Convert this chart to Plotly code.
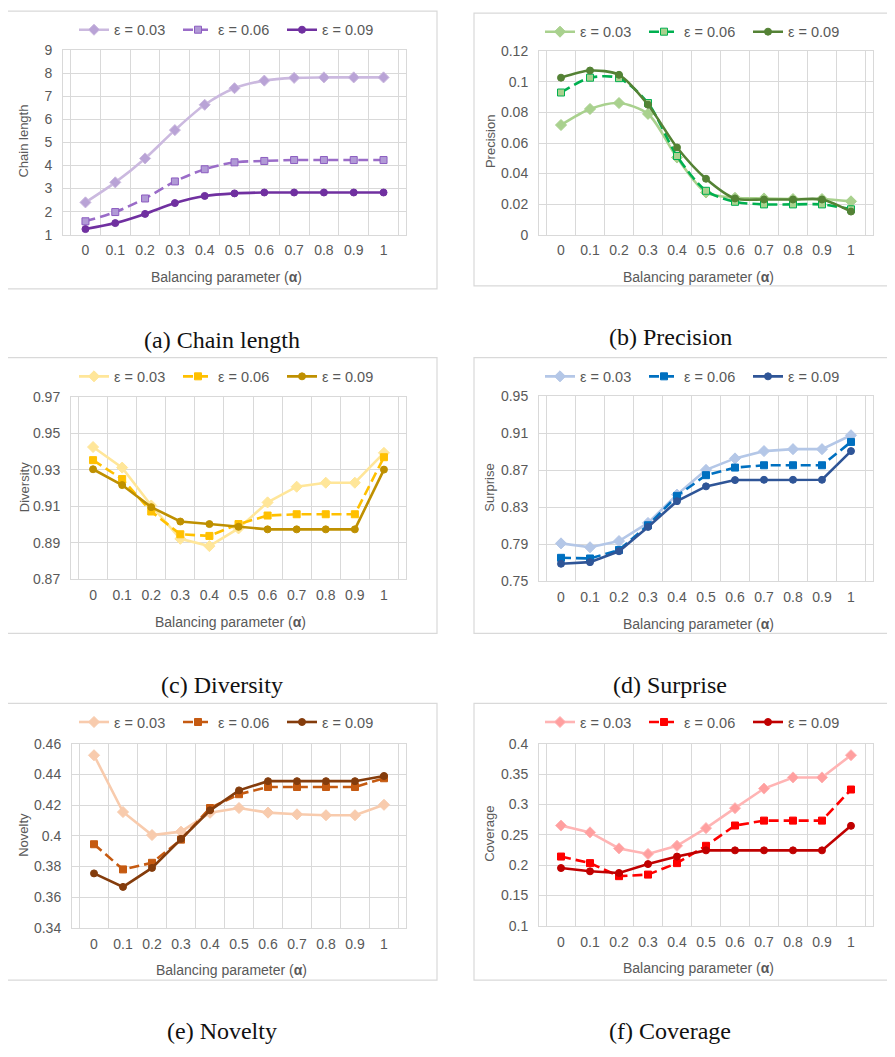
import plotly.graph_objects as go

# ---------------- data ----------------
alpha = ["0", "0.1", "0.2", "0.3", "0.4", "0.5", "0.6", "0.7", "0.8", "0.9", "1"]
eps_labels = ["ε = 0.03", "ε = 0.06", "ε = 0.09"]

chain_003 = [2.40, 3.27, 4.31, 5.54, 6.64, 7.36, 7.69, 7.81, 7.83, 7.83, 7.83]
chain_006 = [1.58, 1.98, 2.57, 3.31, 3.84, 4.14, 4.20, 4.24, 4.24, 4.24, 4.24]
chain_009 = [1.24, 1.50, 1.90, 2.37, 2.68, 2.79, 2.83, 2.83, 2.83, 2.83, 2.83]

prec_003 = [0.0718, 0.0823, 0.0862, 0.0791, 0.0505, 0.0276, 0.0241, 0.0237, 0.0233, 0.0233, 0.0218]
prec_006 = [0.0931, 0.1028, 0.1025, 0.0862, 0.0515, 0.0287, 0.0215, 0.0198, 0.0198, 0.0198, 0.0166]
prec_009 = [0.1028, 0.1075, 0.1047, 0.0851, 0.0571, 0.0366, 0.0237, 0.0230, 0.0230, 0.0230, 0.0151]

div_003 = [0.9426, 0.9313, 0.9105, 0.8922, 0.8882, 0.8979, 0.9122, 0.9208, 0.9230, 0.9230, 0.9394]
div_006 = [0.9354, 0.9250, 0.9072, 0.8947, 0.8938, 0.9003, 0.9050, 0.9057, 0.9057, 0.9057, 0.9370]
div_009 = [0.9304, 0.9217, 0.9096, 0.9017, 0.9003, 0.8988, 0.8974, 0.8974, 0.8974, 0.8974, 0.9302]

surp_003 = [0.7909, 0.7867, 0.7934, 0.8130, 0.8436, 0.8703, 0.8827, 0.8906, 0.8927, 0.8927, 0.9077]
surp_006 = [0.7753, 0.7746, 0.7838, 0.8105, 0.8422, 0.8646, 0.8728, 0.8753, 0.8753, 0.8753, 0.9005]
surp_009 = [0.7689, 0.7706, 0.7824, 0.8087, 0.8365, 0.8525, 0.8593, 0.8596, 0.8596, 0.8596, 0.8906]

nov_003 = [0.4525, 0.4155, 0.4005, 0.4027, 0.4150, 0.4181, 0.4151, 0.4140, 0.4134, 0.4134, 0.4202]
nov_006 = [0.3945, 0.3781, 0.3824, 0.3975, 0.4181, 0.4271, 0.4318, 0.4318, 0.4318, 0.4318, 0.4375]
nov_009 = [0.3755, 0.3667, 0.3791, 0.3980, 0.4166, 0.4296, 0.4356, 0.4356, 0.4356, 0.4356, 0.4390]

cov_003 = [0.2653, 0.2540, 0.2276, 0.2185, 0.2319, 0.2610, 0.2939, 0.3262, 0.3445, 0.3445, 0.3811]
cov_006 = [0.2142, 0.2034, 0.1819, 0.1845, 0.2034, 0.2319, 0.2653, 0.2734, 0.2734, 0.2734, 0.3246]
cov_009 = [0.1953, 0.1899, 0.1872, 0.2018, 0.2142, 0.2244, 0.2244, 0.2244, 0.2244, 0.2244, 0.2648]

y_titles = ["Chain length", "Precision", "Diversity", "Surprise", "Novelty", "Coverage"]
captions = ["(a) Chain length", "(b) Precision", "(c) Diversity",
            "(d) Surprise", "(e) Novelty", "(f) Coverage"]
x_title = "Balancing parameter (<b>α</b>)"

# ---------------- styling / layout ----------------
OFF = 8                       # page body margin of the html wrapper
W, H = 895 - OFF, 1057 - OFF
GRID = "#d9d9d9"
TICK = "#595959"
SANS = "Liberation Sans, Arial, sans-serif"

panels = [
    dict(series=[chain_003, chain_006, chain_009], yr=[1, 9], dt=1,
         colors=[("#cbb9df", "#b9a3d6", "#cbb9df"), ("#9a6cc8", "#b19ad6", "#8c5cc0"), ("#7030a0", "#7030a0", "#7030a0")],
         plot=(63, 406, 43, 230), box=(7, 437, 3, 285), spline=True),
    dict(series=[prec_003, prec_006, prec_009], yr=[0, 0.12], dt=0.02,
         colors=[("#a9d18e", "#a9d18e", "#a9d18e"), ("#00b050", "#a9d18e", "#00b050"), ("#548235", "#548235", "#548235")],
         plot=(539, 873, 44, 230), box=(474, 894, 5, 282), spline=True),
    dict(series=[div_003, div_006, div_009], yr=[0.87, 0.97], dt=0.02,
         colors=[("#ffe699", "#ffe699", "#ffe699"), ("#ffc000", "#ffc000", "#ffc000"), ("#bf9000", "#bf9000", "#bf9000")],
         plot=(71, 406, 395, 580), box=(7, 437, 355, 635), spline=False),
    dict(series=[surp_003, surp_006, surp_009], yr=[0.75, 0.95], dt=0.04,
         colors=[("#b4c7e7", "#b4c7e7", "#b4c7e7"), ("#0070c0", "#0070c0", "#0070c0"), ("#2f5597", "#2f5597", "#2f5597")],
         plot=(539, 873, 394, 582), box=(474, 894, 355, 635), spline=False),
    dict(series=[nov_003, nov_006, nov_009], yr=[0.34, 0.46], dt=0.02,
         colors=[("#f8cbad", "#f8cbad", "#f8cbad"), ("#c55a11", "#c55a11", "#c55a11"), ("#843c0c", "#843c0c", "#843c0c")],
         plot=(72, 406, 747, 934), box=(7, 437, 706, 987), spline=False),
    dict(series=[cov_003, cov_006, cov_009], yr=[0.1, 0.4], dt=0.05,
         colors=[("#ffb4b4", "#ff9f9f", "#ffb4b4"), ("#ff0000", "#ff0000", "#ff0000"), ("#c00000", "#c00000", "#c00000")],
         plot=(539, 873, 747, 932), box=(474, 894, 706, 987), spline=False),
]

symbols = ["diamond", "square", "circle"]
msizes = [8.5, 7, 7]
dashes = ["solid", "10px,5px", "solid"]

fig = go.Figure()
layout = dict(width=W, height=H, margin=dict(l=0, r=0, t=0, b=0),
              paper_bgcolor="white", plot_bgcolor="white",
              font=dict(family=SANS, color=TICK), shapes=[], annotations=[])


def px(x):
    return (x - OFF) / W


def py(y):
    return 1 - (y - OFF) / H


for i, p in enumerate(panels, start=1):
    xa = "x" if i == 1 else f"x{i}"
    ya = "y" if i == 1 else f"y{i}"
    lg = "legend" if i == 1 else f"legend{i}"
    for k in range(3):
        line_c, fill_c, edge_c = p["colors"][k]
        fig.add_trace(go.Scatter(
            x=alpha, y=p["series"][k], name=eps_labels[k], mode="lines+markers",
            xaxis=xa, yaxis=ya, legend=lg,
            line=dict(color=line_c, width=2.6, dash=dashes[k],
                      shape="spline" if p["spline"] else "linear", smoothing=0.8),
            marker=dict(symbol=symbols[k], size=msizes[k], color=fill_c,
                        line=dict(color=edge_c, width=1)),
            hoverinfo="x+y",
        ))
    x0, x1, y0, y1 = p["plot"]
    layout["xaxis" if i == 1 else f"xaxis{i}"] = dict(
        domain=[px(x0), px(x1)], anchor=ya, type="category",
        tickson="boundaries", showgrid=True, gridcolor=GRID, gridwidth=1,
        showline=True, linecolor=GRID, linewidth=1, mirror=True,
        ticks="", ticklabelstandoff=3, tickfont=dict(size=14, color=TICK),
        fixedrange=True,
    )
    layout["yaxis" if i == 1 else f"yaxis{i}"] = dict(
        domain=[py(y1), py(y0)], anchor=xa, range=p["yr"], dtick=p["dt"],
        tick0=p["yr"][0], showgrid=True, gridcolor=GRID, gridwidth=1,
        zeroline=False, showline=True, linecolor=GRID, linewidth=1, mirror=True,
        ticks="", ticklabelstandoff=7, tickfont=dict(size=14, color=TICK),
        fixedrange=True,
    )
    bx0, bx1, by0, by1 = p["box"]
    layout["shapes"].append(dict(type="rect", xref="paper", yref="paper",
                                 x0=px(bx0), x1=px(min(bx1, 893)), y0=py(by1), y1=py(by0),
                                 line=dict(color=GRID, width=1.2), layer="below"))
    # legend on top of each panel
    lx = 74 if x0 < 200 else 540
    ly = by0 + 19
    layout[lg] = dict(orientation="h", x=px(lx), y=py(ly), xanchor="left",
                      yanchor="middle", bgcolor="rgba(0,0,0,0)",
                      font=dict(size=14.5, color=TICK, family=SANS),
                      itemwidth=30, entrywidth=59, entrywidthmode="pixels",
                      tracegroupgap=0)
    # y title
    ytx = 24 if x0 < 200 else 490
    layout["annotations"].append(dict(
        text=y_titles[i - 1], xref="paper", yref="paper", x=px(ytx), y=py((y0 + y1) / 2 - 1),
        textangle=-90, showarrow=False, xanchor="center", yanchor="middle",
        font=dict(size=13, color=TICK, family=SANS)))
    # x title
    layout["annotations"].append(dict(
        text=x_title, xref="paper", yref="paper", x=px((x0 + x1) / 2 - 8), y=py(y1 + 43),
        showarrow=False, xanchor="center", yanchor="middle",
        font=dict(size=14, color=TICK, family=SANS)))
    # caption
    cx = 222 if x0 < 200 else 670
    layout["annotations"].append(dict(
        text=captions[i - 1], xref="paper", yref="paper", x=px(cx), y=py(by1 + 52),
        showarrow=False, xanchor="center", yanchor="middle",
        font=dict(size=24, color="#111111", family="Liberation Serif, DejaVu Serif, serif")))

fig.update_layout(**layout)
fig.write_html("out.html")
